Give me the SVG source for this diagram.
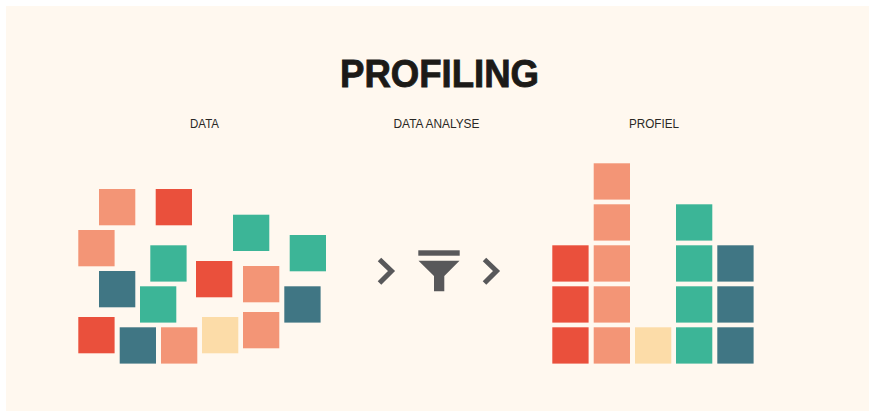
<svg xmlns="http://www.w3.org/2000/svg" width="869" height="411" viewBox="0 0 869 411">
<style>
.r{fill:#ea503c}.s{fill:#f39576}.g{fill:#3cb597}.t{fill:#407684}.c{fill:#fcdca8}
.title{font:bold 39px "Liberation Sans",Arial,sans-serif;fill:#1c1a17;stroke:#1c1a17;stroke-width:.9;text-anchor:middle}
.lab{font:12.5px "Liberation Sans",Arial,sans-serif;fill:#2a2825;text-anchor:middle}
.ch{fill:none;stroke:#58585a;stroke-width:5}
</style>
<defs><rect id="q" width="36.3" height="36.3"/></defs>
<rect width="869" height="411" fill="#fff"/>
<rect x="6" y="6" width="863" height="405" fill="#fff8ef"/>
<text class="title" x="439.500" y="87" textLength="199" lengthAdjust="spacingAndGlyphs">PROFILING</text>
<text class="lab" x="204.500" y="128" textLength="29" lengthAdjust="spacingAndGlyphs">DATA</text>
<text class="lab" x="436.500" y="128" textLength="86" lengthAdjust="spacingAndGlyphs">DATA ANALYSE</text>
<text class="lab" x="654" y="128" textLength="50" lengthAdjust="spacingAndGlyphs">PROFIEL</text>
<g id="data">
<use href="#q" class="s" x="99" y="189"/>
<use href="#q" class="r" x="155.700" y="189"/>
<use href="#q" class="s" x="78.300" y="230"/>
<use href="#q" class="g" x="233" y="214.700"/>
<use href="#q" class="g" x="289.700" y="235"/>
<use href="#q" class="g" x="150.300" y="245.300"/>
<use href="#q" class="r" x="196" y="261"/>
<use href="#q" class="s" x="243" y="266"/>
<use href="#q" class="t" x="99" y="271"/>
<use href="#q" class="t" x="284.300" y="286.300"/>
<use href="#q" class="g" x="140" y="286.300"/>
<use href="#q" class="r" x="78.300" y="317"/>
<use href="#q" class="t" x="119.700" y="327.300"/>
<use href="#q" class="s" x="161" y="327.300"/>
<use href="#q" class="c" x="202" y="317"/>
<use href="#q" class="s" x="243" y="312"/>
</g>
<g id="analyse">
<path class="ch" d="M379.500 259.500L391.500 271L379.500 283"/>
<rect x="418.300" y="250.300" width="41.400" height="5.400" fill="#58585a"/>
<path d="M418.500 260.800H459.500L444.300 276V291.300H434V276Z" fill="#58585a"/>
<path class="ch" d="M484.500 259.500L496.500 271L484.500 283"/>
</g>
<g id="profiel">
<use href="#q" class="r" x="552.300" y="245.300"/>
<use href="#q" class="r" x="552.300" y="286.300"/>
<use href="#q" class="r" x="552.300" y="327.300"/>
<use href="#q" class="s" x="593.700" y="163.300"/>
<use href="#q" class="s" x="593.700" y="204.300"/>
<use href="#q" class="s" x="593.700" y="245.300"/>
<use href="#q" class="s" x="593.700" y="286.300"/>
<use href="#q" class="s" x="593.700" y="327.300"/>
<use href="#q" class="c" x="635" y="327.300"/>
<use href="#q" class="g" x="676" y="204.300"/>
<use href="#q" class="g" x="676" y="245.300"/>
<use href="#q" class="g" x="676" y="286.300"/>
<use href="#q" class="g" x="676" y="327.300"/>
<use href="#q" class="t" x="717.300" y="245.300"/>
<use href="#q" class="t" x="717.300" y="286.300"/>
<use href="#q" class="t" x="717.300" y="327.300"/>
</g>
</svg>
